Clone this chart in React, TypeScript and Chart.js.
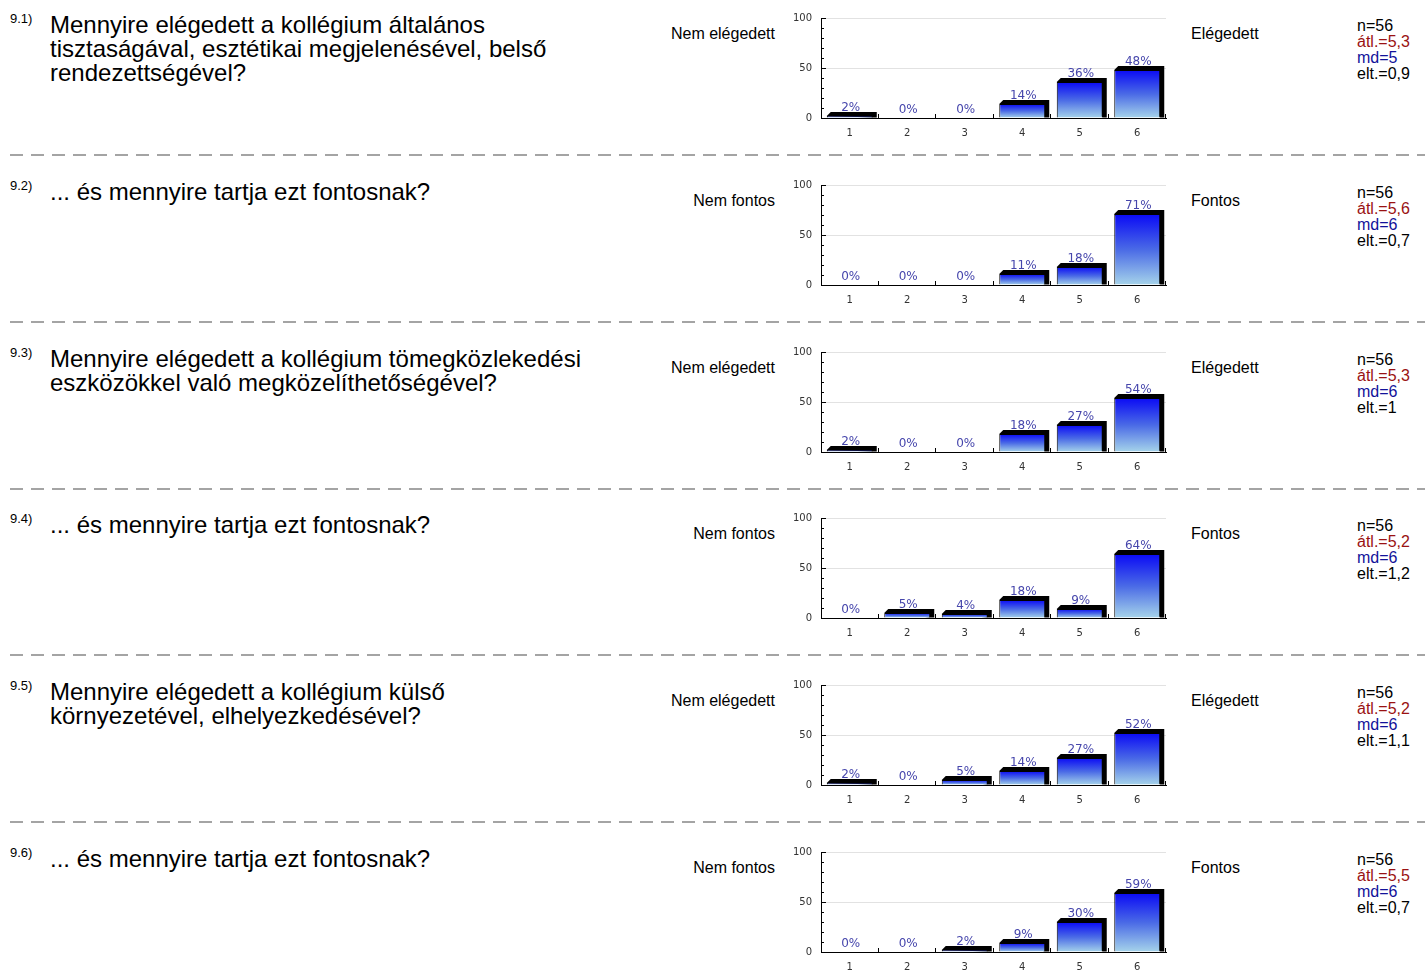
import React, { useEffect, useRef } from 'react';
import { Chart, registerables } from 'chart.js';

Chart.register(...registerables);

// ---- data ----
const categories = ['1', '2', '3', '4', '5', '6'];
const values91 = [2, 0, 0, 14, 36, 48];
const values92 = [0, 0, 0, 11, 18, 71];
const values93 = [2, 0, 0, 18, 27, 54];
const values94 = [0, 5, 4, 18, 9, 64];
const values95 = [2, 0, 5, 14, 27, 52];
const values96 = [0, 0, 2, 9, 30, 59];
const seriesValues = [values91, values92, values93, values94, values95, values96];

const questionIds = ['9.1)', '9.2)', '9.3)', '9.4)', '9.5)', '9.6)'];
const questionLines = [
  ['Mennyire elégedett a kollégium általános', 'tisztaságával, esztétikai megjelenésével, belső', 'rendezettségével?'],
  ['... és mennyire tartja ezt fontosnak?'],
  ['Mennyire elégedett a kollégium tömegközlekedési', 'eszközökkel való megközelíthetőségével?'],
  ['... és mennyire tartja ezt fontosnak?'],
  ['Mennyire elégedett a kollégium külső', 'környezetével, elhelyezkedésével?'],
  ['... és mennyire tartja ezt fontosnak?'],
];
const lowLabels = ['Nem elégedett', 'Nem fontos', 'Nem elégedett', 'Nem fontos', 'Nem elégedett', 'Nem fontos'];
const highLabels = ['Elégedett', 'Fontos', 'Elégedett', 'Fontos', 'Elégedett', 'Fontos'];
const nValues = ['56', '56', '56', '56', '56', '56'];
const meanValues = ['5,3', '5,6', '5,3', '5,2', '5,2', '5,5'];
const medianValues = ['5', '6', '6', '6', '6', '6'];
const deviationValues = ['0,9', '0,7', '1', '1,2', '1,1', '0,7'];
const yTickLabels = [0, 50, 100];
const yMinorStep = 10;

// ---- styling ----
const ROW_H = 166.8;
const DEPTH = 4;
const FONT = '"Liberation Sans", Arial, sans-serif';

const bar3dPlugin = {
  id: 'bar3d',
  beforeDatasetsDraw(chart: any) {
    const ctx = chart.ctx;
    const meta = chart.getDatasetMeta(0);
    const data = chart.data.datasets[0].data;
    ctx.save();
    ctx.fillStyle = '#000';
    meta.data.forEach((el: any, i: number) => {
      if (!(data[i] > 0)) return;
      const p = el.getProps(['x', 'y', 'base', 'width'], true);
      const l = p.x - p.width / 2;
      const r = p.x + p.width / 2;
      const t = p.y;
      const b = p.base;
      ctx.beginPath();
      ctx.moveTo(l, t);
      ctx.lineTo(l + DEPTH, t - DEPTH);
      ctx.lineTo(r + DEPTH, t - DEPTH);
      ctx.lineTo(r + DEPTH, b);
      ctx.lineTo(r, b);
      ctx.closePath();
      ctx.fill();
    });
    ctx.restore();
  },
  afterDatasetsDraw(chart: any) {
    const ctx = chart.ctx;
    const meta = chart.getDatasetMeta(0);
    const data = chart.data.datasets[0].data;
    const area = chart.chartArea;
    const ys = chart.scales.y;
    const xs = chart.scales.x;
    ctx.save();
    // value labels
    ctx.font = '12px "DejaVu Sans", sans-serif';
    ctx.fillStyle = '#4646ac';
    ctx.textAlign = 'center';
    ctx.textBaseline = 'alphabetic';
    meta.data.forEach((el: any, i: number) => {
      const p = el.getProps(['x', 'y'], true);
      ctx.fillText(data[i] + '%', p.x + 1, p.y - DEPTH - 1);
    });
    // y ticks (inside the plot)
    ctx.strokeStyle = '#000';
    ctx.lineWidth = 1;
    ctx.beginPath();
    for (let v = 0; v <= 100; v += yMinorStep) {
      const y = Math.round(ys.getPixelForValue(v)) + 0.5;
      const len = yTickLabels.includes(v) ? 5 : 3;
      ctx.moveTo(area.left, y);
      ctx.lineTo(area.left + len, y);
    }
    // x ticks at category boundaries
    for (let k = 1; k <= categories.length; k++) {
      const x = k < categories.length
        ? (xs.getPixelForValue(k - 1) + xs.getPixelForValue(k)) / 2
        : area.right;
      const xx = Math.round(x) - 0.5;
      ctx.moveTo(xx, area.bottom);
      ctx.lineTo(xx, area.bottom - 4);
    }
    ctx.stroke();
    ctx.restore();
  },
};

function BarPanel({ values }: { values: number[] }) {
  const ref = useRef<HTMLCanvasElement | null>(null);
  useEffect(() => {
    if (!ref.current) return;
    const chart = new Chart(ref.current, {
      type: 'bar',
      data: {
        labels: categories,
        datasets: [
          {
            data: values,
            backgroundColor: (c: any) => {
              const ch = c.chart;
              if (!ch.chartArea) return '#1a1af5';
              const v = c.raw as number;
              const top = ch.scales.y.getPixelForValue(v);
              const base = ch.scales.y.getPixelForValue(0);
              if (base - top < 1) return '#1a1af5';
              const g = ch.ctx.createLinearGradient(0, top, 0, base);
              g.addColorStop(0, '#0a0af5');
              g.addColorStop(0.5, '#4a6ae6');
              g.addColorStop(1, '#a6d4ea');
              return g;
            },
            borderColor: '#000',
            borderWidth: (c: any) => ((c.raw as number) > 0 ? 1 : 0),
            borderSkipped: 'bottom',
            categoryPercentage: 1,
            barPercentage: 0.8,
          },
        ],
      },
      options: {
        responsive: false,
        animation: false,
        devicePixelRatio: 1,
        layout: { padding: { left: 0, right: 14, top: 17, bottom: 0 } },
        plugins: { legend: { display: false }, tooltip: { enabled: false } },
        scales: {
          x: {
            grid: { display: false, drawTicks: false },
            border: { display: true, color: '#000', width: 1 },
            ticks: { color: '#333', font: { size: 10, family: '"DejaVu Sans", sans-serif' }, padding: 9 },
            afterFit: (s: any) => { s.height = 33; },
          },
          y: {
            min: 0,
            max: 100,
            grid: {
              drawTicks: false,
              color: (c: any) => (c.tick && (c.tick.value === 50 || c.tick.value === 100) ? '#e2e2e2' : 'rgba(0,0,0,0)'),
            },
            border: { display: true, color: '#000', width: 1 },
            ticks: {
              stepSize: yMinorStep,
              autoSkip: false,
              color: '#333',
              font: { size: 10, family: '"DejaVu Sans", sans-serif' },
              padding: 9,
              callback: (v: any) => (yTickLabels.includes(Number(v)) ? String(v) : ''),
            },
            afterFit: (s: any) => { s.width = 41; },
          },
        },
      },
      plugins: [bar3dPlugin],
    } as any);
    return () => chart.destroy();
  }, [values]);
  return <canvas ref={ref} width={400} height={150} style={{ display: 'block', width: 400, height: 150 }} />;
}

function Row({ i }: { i: number }) {
  const top = i * ROW_H;
  return (
    <div style={{ position: 'absolute', left: 0, top, width: 1425, height: 167, fontFamily: FONT, color: '#000' }}>
      <div style={{ position: 'absolute', left: 10, top: 11, fontSize: 13, lineHeight: '15px', whiteSpace: 'nowrap' }}>
        {questionIds[i]}
      </div>
      <div style={{ position: 'absolute', left: 50, top: 13, fontSize: 24, lineHeight: '24px', whiteSpace: 'nowrap' }}>
        {questionLines[i].map((l, k) => (
          <div key={k}>{l}</div>
        ))}
      </div>
      <div style={{ position: 'absolute', right: 1425 - 775, top: 26, fontSize: 16, lineHeight: '16px', whiteSpace: 'nowrap', textAlign: 'right' }}>
        {lowLabels[i]}
      </div>
      <div style={{ position: 'absolute', left: 780, top: 1 }}>
        <BarPanel values={seriesValues[i]} />
      </div>
      <div style={{ position: 'absolute', left: 1191, top: 26, fontSize: 16, lineHeight: '16px', whiteSpace: 'nowrap' }}>
        {highLabels[i]}
      </div>
      <div style={{ position: 'absolute', left: 1357, top: 18, fontSize: 16, lineHeight: '16px', whiteSpace: 'nowrap' }}>
        <div>n={nValues[i]}</div>
        <div style={{ color: '#9a1212' }}>átl.={meanValues[i]}</div>
        <div style={{ color: '#12129a' }}>md={medianValues[i]}</div>
        <div>elt.={deviationValues[i]}</div>
      </div>
      {i < questionIds.length - 1 && (
        <div
          style={{
            position: 'absolute',
            left: 10,
            top: 154,
            width: 1415,
            height: 2,
            background: 'repeating-linear-gradient(to right, #a4a4a4 0px, #a4a4a4 13px, rgba(0,0,0,0) 13px, rgba(0,0,0,0) 21px)',
          }}
        />
      )}
    </div>
  );
}

export default function App() {
  return (
    <div style={{ position: 'absolute', left: 0, top: 0, width: 1425, height: 970, overflow: 'hidden', background: '#fff' }}>
      {questionIds.map((_, i) => (
        <Row key={i} i={i} />
      ))}
    </div>
  );
}
